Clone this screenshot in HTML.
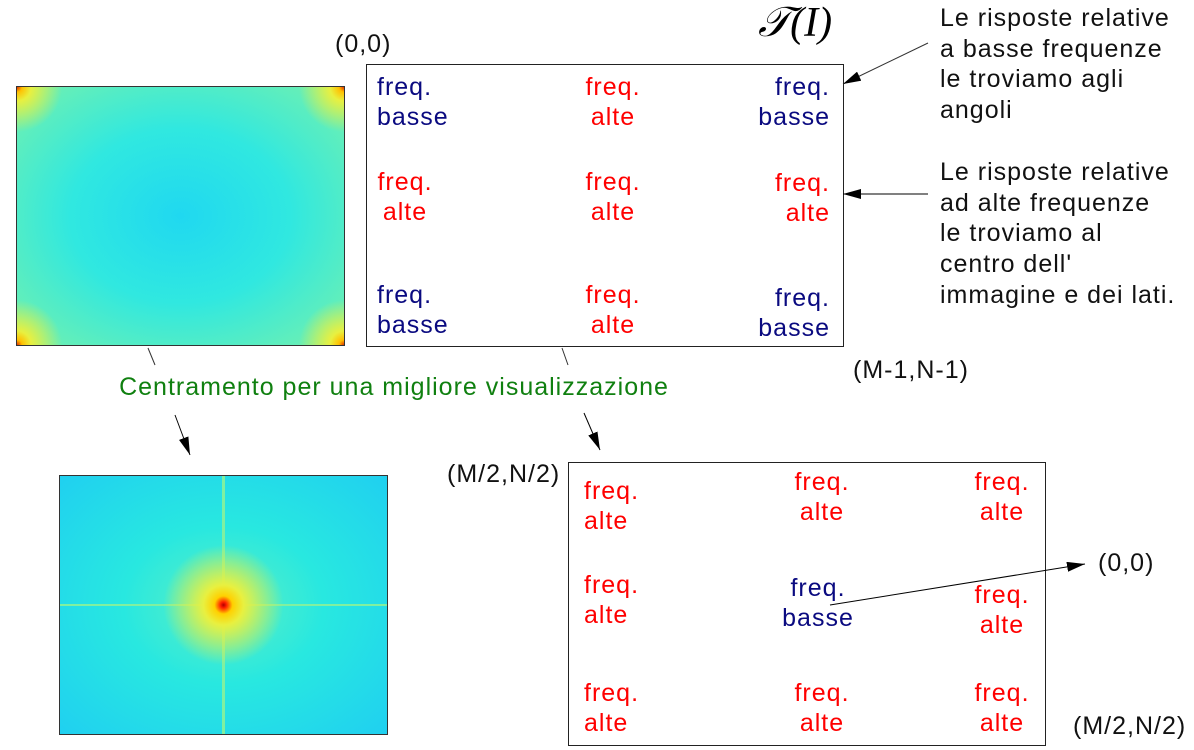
<!DOCTYPE html>
<html><head><meta charset="utf-8">
<style>
body{margin:0;width:1194px;height:750px;background:#fff;position:relative;overflow:hidden;font-family:"Liberation Sans",sans-serif;font-size:25px;letter-spacing:1px}
.t{position:absolute;line-height:30px;white-space:nowrap}
.b{color:#0a0a80}.r{color:#f00}.k{color:#111}
.c{transform:translateX(-50%);text-align:center}
.rt{transform:translateX(-100%);text-align:right}
.box{position:absolute;border:1.5px solid #222;background:#fff}
.img{position:absolute;border:1px solid #333}
</style></head><body>
<div class="img" style="left:16px;top:86px;width:327px;height:258px;background:
radial-gradient(circle at 0 0,#e03000 0,#ffc000 5px,#e8f040 14px,rgba(140,240,140,0) 45px),
radial-gradient(circle at 100% 0,#e03000 0,#ffc000 5px,#e8f040 14px,rgba(140,240,140,0) 45px),
radial-gradient(circle at 0 100%,#e03000 0,#ffc000 5px,#e8f040 14px,rgba(140,240,140,0) 45px),
radial-gradient(circle at 100% 100%,#e03000 0,#ffc000 5px,#e8f040 14px,rgba(140,240,140,0) 45px),
radial-gradient(ellipse at 50% 50%,#20d8f0 0,#30e8e0 110px,#70f0b0 220px)"></div>
<div class="img" style="left:59px;top:475px;width:327px;height:258px;background:
radial-gradient(circle at 50% 50%,#b00000 0,#ff2000 3px,#ffd000 9px,#e8f040 20px,rgba(140,240,150,0) 60px),
linear-gradient(#0000 49.6%,#80f0a0 49.6%,#80f0a0 50.4%,#0000 50.4%),
linear-gradient(90deg,#0000 49.6%,#80f0a0 49.6%,#80f0a0 50.4%,#0000 50.4%),
radial-gradient(ellipse at 50% 50%,#60f0c0 0,#28e8e0 100px,#20d0f0 230px)"></div>

<div class="box" style="left:366px;top:64px;width:476px;height:281px"></div>
<div class="box" style="left:568px;top:462px;width:476px;height:282px"></div>

<div class="t" style="left:758px;top:0px;font-family:'Liberation Serif',serif;font-style:italic;font-size:42px;line-height:46px;letter-spacing:0">𝒯(I)</div>
<div class="t k" style="left:335px;top:29px">(0,0)</div>
<div class="t k" style="left:853px;top:355px">(M-1,N-1)</div>
<div class="t k" style="left:447px;top:459px">(M/2,N/2)</div>
<div class="t k" style="left:1098px;top:548px">(0,0)</div>
<div class="t k" style="left:1073px;top:711px">(M/2,N/2)</div>
<div class="t c" style="left:394px;top:372px;color:#108010">Centramento per una migliore visualizzazione</div>

<div class="t k" style="left:940px;top:3px;line-height:30.5px">Le risposte relative<br>a basse frequenze<br>le troviamo agli<br>angoli</div>
<div class="t k" style="left:940px;top:157px;line-height:30.7px">Le risposte relative<br>ad alte frequenze<br>le troviamo al<br>centro dell'<br>immagine e dei lati.</div>

<div class="t b" style="left:377px;top:72px">freq.<br>basse</div>
<div class="t r c" style="left:613px;top:72px">freq.<br>alte</div>
<div class="t b rt" style="left:830px;top:72px">freq.<br>basse</div>
<div class="t r c" style="left:405px;top:167px">freq.<br>alte</div>
<div class="t r c" style="left:613px;top:167px">freq.<br>alte</div>
<div class="t r rt" style="left:830px;top:168px">freq.<br>alte</div>
<div class="t b" style="left:377px;top:280px">freq.<br>basse</div>
<div class="t r c" style="left:613px;top:280px">freq.<br>alte</div>
<div class="t b rt" style="left:830px;top:283px">freq.<br>basse</div>

<div class="t r" style="left:584px;top:476px">freq.<br>alte</div>
<div class="t r c" style="left:822px;top:467px">freq.<br>alte</div>
<div class="t r c" style="left:1002px;top:467px">freq.<br>alte</div>
<div class="t r" style="left:584px;top:570px">freq.<br>alte</div>
<div class="t b c" style="left:818px;top:573px">freq.<br>basse</div>
<div class="t r c" style="left:1002px;top:580px">freq.<br>alte</div>
<div class="t r" style="left:584px;top:678px">freq.<br>alte</div>
<div class="t r c" style="left:822px;top:678px">freq.<br>alte</div>
<div class="t r c" style="left:1002px;top:678px">freq.<br>alte</div>

<svg width="1194" height="750" style="position:absolute;left:0;top:0">
<defs><marker id="a" markerWidth="18" markerHeight="10" refX="18" refY="5" orient="auto" markerUnits="userSpaceOnUse"><path d="M0,0L18,5L0,10z" fill="#000"/></marker></defs>
<line x1="928" y1="43" x2="843" y2="84" stroke="#333" stroke-width="1" marker-end="url(#a)"/>
<line x1="928" y1="194" x2="843" y2="194" stroke="#000" stroke-width="1" marker-end="url(#a)"/>
<line x1="148" y1="348" x2="155" y2="365" stroke="#333"/>
<line x1="175" y1="415" x2="190" y2="455" stroke="#000" marker-end="url(#a)"/>
<line x1="562" y1="348" x2="568" y2="365" stroke="#333"/>
<line x1="584" y1="413" x2="600" y2="450" stroke="#000" marker-end="url(#a)"/>
<line x1="830" y1="605" x2="1085" y2="564" stroke="#000" marker-end="url(#a)"/>
</svg>
</body></html>
